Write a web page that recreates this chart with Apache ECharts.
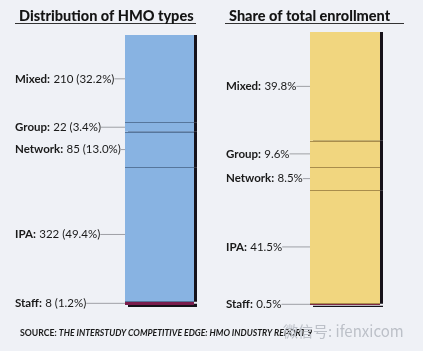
<!DOCTYPE html>
<html>
<head>
<meta charset="utf-8">
<script src="https://cdn.jsdelivr.net/npm/echarts@6/dist/echarts.min.js"></script>
<style>
html,body{margin:0;padding:0;background:#eff1f6;}
#chart{width:423px;height:351px;}
</style>
</head>
<body>
<div id="chart"></div>
<script>
// HMO types, top to bottom as drawn
var types = ['Mixed', 'Group', 'Network', 'IPA', 'Staff'];
// number of plans and share of plans
var planCounts = [210, 22, 85, 322, 8];
var planShares = ['32.2%', '3.4%', '13.0%', '49.4%', '1.2%'];
// share of total enrollment (%)
var enrollShares = [39.8, 9.6, 8.5, 41.5, 0.5];

var titles = ['Distribution of HMO types', 'Share of total enrollment'];
var sourceText = 'THE INTERSTUDY COMPETITIVE EDGE: HMO INDUSTRY REPORT 9';

var FONT = 'Lato';
var blue = '#88b3e2', blueLine = '#56769c';
var yellow = '#f1d67f', yellowLine = '#a98d4c';
var staffColor = '#7a1d4d';

function sum(a){ var s = 0; for (var i = 0; i < a.length; i++) s += a[i]; return s; }
// boundaries between segments, counted from the bottom
function bounds(a){
	var out = [], s = 0;
	for (var i = a.length - 1; i > 0; i--) { s += a[i]; out.push({yAxis: s}); }
	return out;
}

var rich = {
	b: {fontFamily: FONT, fontWeight: 'bold', fontSize: 11.5, color: '#1a1a1a'},
	v: {fontFamily: FONT, fontSize: 11.5, color: '#1a1a1a'}
};

var series = [];
// stack from the bottom: Staff first
for (var i = types.length - 1; i >= 0; i--) {
	var isStaff = types[i] == 'Staff';
	var isTop = i == 0;
	series.push({
		name: types[i],
		type: 'bar',
		stack: 'plans',
		xAxisIndex: 0, yAxisIndex: 0,
		barWidth: '100%',
		data: [planCounts[i]],
		itemStyle: {
			color: isStaff ? staffColor : blue,
			shadowColor: '#16121a', shadowBlur: 0,
			shadowOffsetX: 3, shadowOffsetY: isStaff ? 2 : 0
		},
		label: {
			show: true, position: 'left',
			formatter: '{b|' + types[i] + ':} {v|' + planCounts[i] + ' (' + planShares[i] + ')}',
			rich: rich,
			padding: [0, 8, 0, 0]
		},
		labelLayout: {x: 15, align: 'left', verticalAlign: 'middle'},
		labelLine: {show: true, lineStyle: {color: '#8a8c92', width: 0.8}},
		markLine: isTop ? {
			silent: true, symbol: 'none', label: {show: false},
			lineStyle: {color: blueLine, width: 1, type: 'solid'},
			data: bounds(planCounts)
		} : undefined,
		emphasis: {disabled: true},
		silent: true
	});
	series.push({
		name: types[i],
		type: 'bar',
		stack: 'enroll',
		xAxisIndex: 1, yAxisIndex: 1,
		barWidth: '100%',
		data: [enrollShares[i]],
		itemStyle: {
			color: isStaff ? '#7d2a45' : yellow,
			shadowColor: '#16121a', shadowBlur: 0,
			shadowOffsetX: 3, shadowOffsetY: isStaff ? 2 : 0
		},
		label: {
			show: true, position: 'left',
			formatter: '{b|' + types[i] + ':} {v|' + enrollShares[i] + '%}',
			rich: rich,
			padding: [0, 8, 0, 0]
		},
		labelLayout: {x: 226, align: 'left', verticalAlign: 'middle'},
		labelLine: {show: true, lineStyle: {color: '#8a8c92', width: 0.8}},
		markLine: isTop ? {
			silent: true, symbol: 'none', label: {show: false},
			lineStyle: {color: yellowLine, width: 1, type: 'solid'},
			data: bounds(enrollShares)
		} : undefined,
		emphasis: {disabled: true},
		silent: true
	});
}

var myChart = echarts.init(document.getElementById('chart'));
myChart.setOption({
	backgroundColor: '#eff1f6',
	animation: false,
	title: [
		{text: titles[0], left: 14, top: 4, textStyle: {fontFamily: FONT, fontWeight: 900, fontSize: 14.5, color: '#141414'}},
		{text: titles[1], left: 224, top: 4, textStyle: {fontFamily: FONT, fontWeight: 900, fontSize: 14.5, color: '#141414'}},
		{
			text: '{a|SOURCE: }{b|' + sourceText + '}',
			left: 15, top: 324,
			textStyle: {
				rich: {
					a: {fontFamily: FONT, fontSize: 8.7, color: '#1a1a1a'},
					b: {fontFamily: FONT, fontSize: 8.7, fontStyle: 'italic', color: '#1a1a1a'}
				}
			}
		},
		{text: '微信号: ifenxicom', left: 278, top: 319, textStyle: {fontFamily: 'Noto Sans CJK SC', fontWeight: 'normal', fontSize: 15, color: '#bcc0c8'}}
	],
	graphic: [
		{type: 'line', shape: {x1: 15, y1: 23.5, x2: 196, y2: 23.5}, style: {stroke: '#333', lineWidth: 1}},
		{type: 'line', shape: {x1: 225, y1: 23.5, x2: 404, y2: 23.5}, style: {stroke: '#333', lineWidth: 1}}
	],
	grid: [
		{left: 125, top: 35, width: 69, height: 270},
		{left: 310, top: 32, width: 70, height: 273}
	],
	xAxis: [
		{type: 'category', gridIndex: 0, data: ['plans'], show: false},
		{type: 'category', gridIndex: 1, data: ['enrollment'], show: false}
	],
	yAxis: [
		{type: 'value', gridIndex: 0, min: 0, max: sum(planCounts), show: false},
		{type: 'value', gridIndex: 1, min: 0, max: sum(enrollShares), show: false}
	],
	series: series
});
</script>
</body>
</html>
